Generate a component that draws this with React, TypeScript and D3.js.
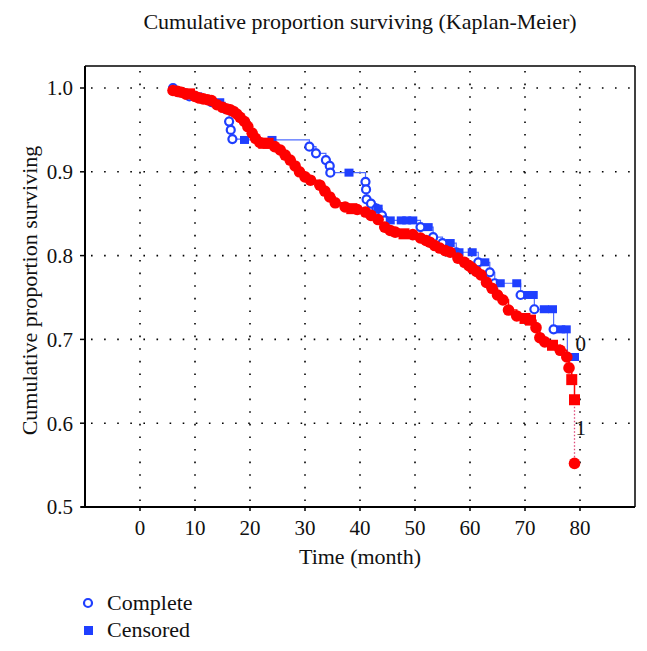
import React from "react";
import * as d3 from "d3";

// ---- data ----
const xTicks = [0, 10, 20, 30, 40, 50, 60, 70, 80];
const yTicks = [0.5, 0.6, 0.7, 0.8, 0.9, 1.0];

// group 0 (blue): times, survival after time, censored flag (1 = censored)
const g0Times = [6, 7, 9, 10.5, 13, 14.5, 15.5, 16.2, 16.5, 16.8, 19, 24, 30.8, 32, 33.8, 34.5, 34.6, 38, 41, 41.1, 41.2, 42, 43, 43.3, 44, 44.5, 45.5, 47.5, 48.5, 49.6, 51, 52.4, 53.3, 55, 56.4, 57.5, 58, 60.4, 61.5, 62.7, 63.6, 64.5, 65.5, 68.5, 69.2, 70.5, 71.5, 71.7, 73.5, 75, 75.2, 76.5, 77.5, 77.7, 79];
const g0Surv = [1.0, 0.995, 0.99, 0.99, 0.983, 0.983, 0.975, 0.96, 0.95, 0.939, 0.938, 0.938, 0.93, 0.922, 0.914, 0.907, 0.899, 0.899, 0.888, 0.879, 0.867, 0.862, 0.856, 0.856, 0.848, 0.842, 0.842, 0.842, 0.842, 0.842, 0.834, 0.834, 0.822, 0.815, 0.815, 0.804, 0.804, 0.804, 0.792, 0.792, 0.78, 0.767, 0.767, 0.767, 0.753, 0.753, 0.753, 0.736, 0.736, 0.736, 0.712, 0.712, 0.712, 0.679, 0.679];
const g0Cens = [0, 0, 0, 1, 0, 1, 0, 0, 0, 0, 1, 1, 0, 0, 0, 0, 0, 1, 0, 0, 0, 0, 0, 1, 0, 0, 1, 1, 1, 1, 0, 1, 0, 0, 1, 0, 1, 1, 0, 1, 0, 0, 1, 1, 0, 1, 1, 0, 1, 1, 0, 1, 1, 0, 1];

// group 1 (red)
const g1Times = [6, 6.8, 7.5, 8.3, 9, 10, 10.8, 11.5, 12.3, 13, 14, 15, 15.8, 16.4, 17, 17.6, 18.2, 19, 19.6, 20.4, 21, 21.8, 22.5, 23.3, 24.5, 25.5, 26.4, 27.3, 28.2, 29, 30, 31, 32.7, 33.6, 34.5, 35.5, 37.3, 38.5, 39.5, 41, 42, 43.3, 44.5, 45.5, 46.4, 48, 49.6, 51, 52, 52.7, 53.6, 54.5, 55.5, 56.4, 57.8, 59, 59.8, 60.4, 61.2, 62, 63, 64, 65, 66, 67, 68.5, 70, 71, 72, 72.7, 73.6, 75, 76.4, 77.6, 78, 78.5, 79, 79.3];
const g1Surv = [0.997, 0.996, 0.995, 0.993, 0.993, 0.99, 0.988, 0.987, 0.986, 0.985, 0.98, 0.977, 0.975, 0.974, 0.972, 0.969, 0.965, 0.96, 0.954, 0.946, 0.94, 0.935, 0.934, 0.934, 0.93, 0.926, 0.92, 0.914, 0.907, 0.9, 0.894, 0.89, 0.884, 0.877, 0.87, 0.863, 0.858, 0.856, 0.855, 0.852, 0.848, 0.843, 0.834, 0.83, 0.828, 0.826, 0.825, 0.821, 0.818, 0.816, 0.812, 0.809, 0.806, 0.804, 0.797, 0.792, 0.788, 0.785, 0.781, 0.777, 0.768, 0.761, 0.753, 0.747, 0.735, 0.728, 0.725, 0.723, 0.714, 0.702, 0.697, 0.693, 0.687, 0.679, 0.666, 0.652, 0.628, 0.552];
const g1Cens = [0, 0, 0, 0, 1, 0, 0, 0, 0, 0, 0, 0, 0, 0, 0, 0, 0, 0, 0, 0, 0, 0, 1, 1, 0, 0, 0, 0, 0, 0, 0, 0, 0, 0, 0, 0, 0, 1, 0, 0, 0, 0, 0, 0, 0, 1, 0, 0, 0, 0, 0, 0, 0, 0, 0, 0, 0, 0, 0, 0, 0, 0, 0, 0, 0, 0, 1, 1, 0, 0, 0, 1, 0, 0, 0, 1, 1, 0];

const groupLabels = ["0", "1"];

const W = 647;
const H = 651;
const M = { left: 85, right: 635, top: 66, bottom: 507 };
const FONT = "'Liberation Serif', 'DejaVu Serif', serif";
const FS = 21;
const FL = 22;

const BLUE = "#1f3fff";
const RED = "#ff0000";

function stepPath(times: number[], surv: number[], x: any, y: any, upto: number) {
  let d = `M${x(times[0])},${y(surv[0])}`;
  for (let i = 1; i < upto; i++) {
    d += `H${x(times[i])}V${y(surv[i])}`;
  }
  return d;
}

export default function App() {
  const x = d3.scaleLinear().domain([-10, 90]).range([M.left, M.right]);
  const y = d3.scaleLinear().domain([0.5, 1.0]).range([M.bottom, 88]);

  const n1 = g1Times.length;
  const redMain = stepPath(g1Times, g1Surv, x, y, n1 - 1);
  const blueMain = stepPath(g0Times, g0Surv, x, y, g0Times.length);
  const lastX = x(g1Times[n1 - 2]);

  return (
    <svg width={W} height={H} style={{ position: "absolute", left: 0, top: 0, background: "#fff" }} fontFamily={FONT}>
      <rect x={0} y={0} width={W} height={H} fill="#fff" />
      <text x={(M.left + M.right) / 2} y={29} textAnchor="middle" fontSize={FL} fill="#111">
        Cumulative proportion surviving (Kaplan-Meier)
      </text>

      {/* grid */}
      {yTicks.filter((t) => t > 0.5).map((t) => (
        <line key={"gy" + t} x1={M.left + 6} x2={M.right} y1={y(t)} y2={y(t)} stroke="#000" strokeWidth={1.6} strokeDasharray="1.6 11.5" />
      ))}
      {xTicks.map((t) => (
        <line key={"gx" + t} x1={x(t)} x2={x(t)} y1={M.top + 5} y2={M.bottom} stroke="#000" strokeWidth={1.6} strokeDasharray="1.6 11" />
      ))}

      {/* frame */}
      <line x1={M.left} x2={M.right} y1={M.top} y2={M.top} stroke="#000" strokeWidth={1.5} />
      <line x1={M.right} x2={M.right} y1={M.top} y2={M.bottom} stroke="#000" strokeWidth={1.5} />
      <line x1={M.left} x2={M.left} y1={M.top} y2={M.bottom} stroke="#000" strokeWidth={2} />
      <line x1={M.left - 4} x2={M.right} y1={M.bottom} y2={M.bottom} stroke="#000" strokeWidth={2} />

      {/* y ticks */}
      {yTicks.map((t) => (
        <g key={"yt" + t}>
          <line x1={M.left - 5} x2={M.left} y1={y(t)} y2={y(t)} stroke="#000" strokeWidth={1.5} />
          <text x={M.left - 12} y={y(t)} dy="0.35em" textAnchor="end" fontSize={FS} fill="#111">
            {d3.format(".1f")(t)}
          </text>
        </g>
      ))}
      {/* x ticks */}
      {xTicks.map((t) => (
        <g key={"xt" + t}>
          <line x1={x(t)} x2={x(t)} y1={M.bottom} y2={M.bottom + 4} stroke="#000" strokeWidth={1.5} />
          <text x={x(t)} y={M.bottom + 28} textAnchor="middle" fontSize={FS} fill="#111">
            {t}
          </text>
        </g>
      ))}

      <text x={(M.left + M.right) / 2} y={564} textAnchor="middle" fontSize={FL} fill="#111">
        Time (month)
      </text>
      <text transform={`translate(29,${(M.top + M.bottom) / 2 + 4}) rotate(-90)`} textAnchor="middle" dy="0.35em" fontSize={FL} fill="#111">
        Cumulative proportion surviving
      </text>

      {/* blue line */}
      <path d={blueMain} fill="none" stroke="#4f6cff" strokeWidth={1.2} />

      {/* red line */}
      <path d={redMain} fill="none" stroke={RED} strokeWidth={1.5} />
      <line x1={lastX} x2={lastX} y1={y(g1Surv[n1 - 2])} y2={y(g1Surv[n1 - 1])} stroke="#e04a7a" strokeWidth={1.3} strokeDasharray="1.5 2" />

      {/* blue markers */}
      {g0Times.map((t, i) =>
        g0Cens[i] ? (
          <rect key={"b" + i} x={x(t) - 4.5} y={y(g0Surv[i]) - 4} width={9} height={8} fill={BLUE} />
        ) : (
          <circle key={"b" + i} cx={x(t)} cy={y(g0Surv[i])} r={4} fill="#fff" stroke={BLUE} strokeWidth={2.2} />
        )
      )}

      {/* red markers */}
      {g1Times.map((t, i) => {
        const cx = i === n1 - 1 ? lastX : x(t);
        return g1Cens[i] ? (
          <rect key={"r" + i} x={cx - 5.5} y={y(g1Surv[i]) - 5.5} width={11} height={11} fill={RED} />
        ) : (
          <circle key={"r" + i} cx={cx} cy={y(g1Surv[i])} r={5.8} fill={RED} />
        );
      })}

      {/* group labels */}
      <text x={x(g0Times[g0Times.length - 1]) + 1} y={y(g0Surv[g0Surv.length - 1]) - 6} fontSize={FS} fill="#111">
        {groupLabels[0]}
      </text>
      <text x={lastX + 1} y={435} fontSize={FS} fill="#111">
        {groupLabels[1]}
      </text>

      {/* legend */}
      <circle cx={88} cy={603} r={4} fill="#fff" stroke={BLUE} strokeWidth={2.2} />
      <text x={107} y={610} fontSize={FL} fill="#111">Complete</text>
      <rect x={84} y={626} width={9} height={9} fill={BLUE} />
      <text x={107} y={637} fontSize={FL} fill="#111">Censored</text>
    </svg>
  );
}
